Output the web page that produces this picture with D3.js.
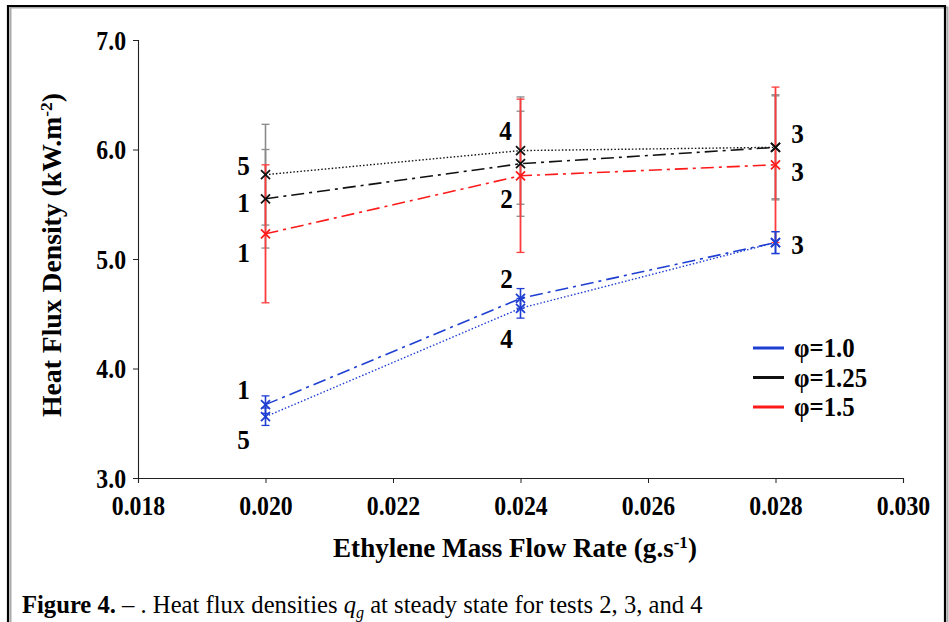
<!DOCTYPE html>
<html><head><meta charset="utf-8">
<script src="https://cdn.jsdelivr.net/npm/d3@7"></script>
<style>body{margin:0;background:#fff}svg{display:block}text{font-family:"Liberation Serif","Times New Roman",serif}</style>
</head><body><svg id="c" width="949" height="622"></svg>
<script>
// ---- data ----
const flowRates = [0.020, 0.024, 0.028];
const xTicks = [0.018, 0.020, 0.022, 0.024, 0.026, 0.028, 0.030];
const yTicks = [3.0, 4.0, 5.0, 6.0, 7.0];
const phi10_tests123 = [3.67, 4.64, 5.15];
const phi10_tests123_err = [0.08, 0.09, 0.10];
const phi10_tests543 = [3.56, 4.55, 5.15];
const phi10_tests543_err = [0.08, 0.09, 0.10];
const phi125_tests123 = [5.55, 5.87, 6.02];
const phi125_tests123_err = [0.45, 0.48, 0.47];
const phi125_tests543 = [5.77, 5.99, 6.02];
const phi125_tests543_err = [0.46, 0.49, 0.48];
const phi15_tests123 = [5.23, 5.76, 5.86];
const phi15_tests123_err = [0.63, 0.70, 0.71];
const legendLabels = ["φ=1.0", "φ=1.25", "φ=1.5"];
// point annotations: [series key, point index, text]
const pointLabels = [
  ["b125d", 0, "5"], ["b125a", 0, "1"], ["r15", 0, "1"],
  ["b125d", 1, "4"], ["r15", 1, "2"], ["b10a", 1, "2"], ["b10d", 1, "4"],
  ["b125d", 2, "3"], ["r15", 2, "3"], ["b10a", 2, "3"],
  ["b10a", 0, "1"], ["b10d", 0, "5"]
];

// ---- styles / layout ----
const BLUE = "#1f3fd2", RED = "#ff1a1a", BLACK = "#111", GRAY = "#8a8a8a";
const series = {
  b10a: {vals: phi10_tests123, err: phi10_tests123_err, color: BLUE, ecolor: BLUE, dash: "13,5,3,5", w: 1.6},
  b10d: {vals: phi10_tests543, err: phi10_tests543_err, color: BLUE, ecolor: BLUE, dash: "1.5,2", w: 1.4},
  b125a: {vals: phi125_tests123, err: phi125_tests123_err, color: BLACK, ecolor: GRAY, dash: "13,5,3,5", w: 1.6},
  b125d: {vals: phi125_tests543, err: phi125_tests543_err, color: BLACK, ecolor: GRAY, dash: "1.5,2", w: 1.4},
  r15: {vals: phi15_tests123, err: phi15_tests123_err, color: RED, ecolor: "#ff3b3b", dash: "13,5,3,5", w: 1.6}
};
const labelOffsets = [
  [-22,-9],[-22,3],[-22,18],
  [-15,-20],[-14,22],[-14,-20],[-14,30],
  [22,-14],[22,6],[22,2],
  [-22,-15],[-22,23]
];

const svg = d3.select("#c");
// frame
svg.append("path").attr("d","M9,640V6H946V640").attr("fill","none").attr("stroke","#aaa").attr("stroke-width",2).attr("transform","translate(1.5,1.5)");
svg.append("path").attr("d","M8,640V6H945V640").attr("fill","none").attr("stroke","#000").attr("stroke-width",2.2);

const x = d3.scaleLinear().domain([0.018, 0.030]).range([138, 903]);
const y = d3.scaleLinear().domain([3.0, 7.0]).range([478, 40]);

function condense(textSel, sx, anchorX) {
  textSel.each(function() {
    const t = d3.select(this);
    const ax = anchorX(t), ay = +t.attr("y") || 0;
    t.attr("transform", `translate(${ax},${ay}) scale(${sx},1) translate(${-ax},${-ay})`);
  });
}

const xAxis = svg.append("g").attr("transform","translate(0,478)")
  .call(d3.axisBottom(x).tickValues(xTicks).tickFormat(d3.format(".3f")).tickSize(5).tickPadding(8));
const yAxis = svg.append("g").attr("transform","translate(138,0)")
  .call(d3.axisLeft(y).tickValues(yTicks).tickFormat(d3.format(".1f")).tickSize(5).tickPadding(7));
[xAxis, yAxis].forEach(g => {
  g.select(".domain").attr("stroke","#222").attr("stroke-width",1.1);
  g.selectAll(".tick line").attr("stroke","#222");
  g.selectAll("text").attr("font-size",27).attr("font-weight","bold").attr("fill","#000")
   .attr("font-family",'"Liberation Serif",serif');
});
xAxis.selectAll("text").attr("dy","0.9em");
yAxis.selectAll("text").attr("dy","0.35em");
condense(xAxis.selectAll("text"), 0.88, () => 0);
condense(yAxis.selectAll("text"), 0.88, t => +t.attr("x"));

// error bars
const errG = svg.append("g");
["b125d","b125a","r15","b10a","b10d"].forEach(k => {
  const s = series[k];
  flowRates.forEach((f,i) => {
    const x0 = x(f), y1 = y(s.vals[i]+s.err[i]), y2 = y(s.vals[i]-s.err[i]);
    errG.append("line").attr("x1",x0).attr("x2",x0).attr("y1",y1).attr("y2",y2)
      .attr("stroke",s.ecolor).attr("stroke-width",k==="r15"?1.8:1.6);
    [y1,y2].forEach(yy => errG.append("line").attr("x1",x0-4).attr("x2",x0+4).attr("y1",yy).attr("y2",yy)
      .attr("stroke",s.ecolor).attr("stroke-width",1.3));
  });
});

// lines
const line = d3.line().x((d,i)=>x(flowRates[i])).y(d=>y(d));
Object.values(series).forEach(s => {
  svg.append("path").attr("d", line(s.vals)).attr("fill","none").attr("stroke",s.color)
    .attr("stroke-width",s.w).attr("stroke-dasharray",s.dash);
});

// markers (x)
Object.values(series).forEach(s => {
  s.vals.forEach((v,i) => {
    const cx = x(flowRates[i]), cy = y(v), r = 4.5;
    svg.append("path").attr("d",`M${cx-r},${cy-r}L${cx+r},${cy+r}M${cx-r},${cy+r}L${cx+r},${cy-r}`)
      .attr("stroke",s.color).attr("stroke-width",1.8);
  });
});

// point annotations
pointLabels.forEach((p,j) => {
  const s = series[p[0]];
  const t = svg.append("text").attr("x", x(flowRates[p[1]]) + labelOffsets[j][0])
    .attr("y", y(s.vals[p[1]]) + labelOffsets[j][1])
    .attr("text-anchor","middle").attr("dy","0.35em")
    .attr("font-size",28).attr("font-weight","bold").text(p[2]);
  condense(t, 0.9, tt => +tt.attr("x"));
});

// legend
const legColors = [BLUE, BLACK, RED];
legendLabels.forEach((t,i) => {
  const ly = 348 + i*29.5;
  svg.append("line").attr("x1",753).attr("x2",784).attr("y1",ly).attr("y2",ly).attr("stroke",legColors[i]).attr("stroke-width",3);
  const tx = svg.append("text").attr("x",794).attr("y",ly).attr("dy","0.35em").attr("font-size",27).attr("font-weight","bold").text(t);
  condense(tx, 0.92, () => 794);
});

function fitWidth(sel, target, ax, ay) {
  const w = sel.node().getBBox().width;
  const s = target / w;
  sel.attr("transform", `translate(${ax},${ay}) scale(${s},1) translate(${-ax},${-ay})`);
}

// axis titles
const xt = svg.append("text").attr("x",515).attr("y",548).attr("dy","0.35em").attr("text-anchor","middle")
  .attr("font-size",27).attr("font-weight","bold");
xt.append("tspan").text("Ethylene Mass Flow Rate (g.s");
xt.append("tspan").attr("font-size",17).attr("dy","-9").text("-1");
xt.append("tspan").attr("dy","9").text(")");
fitWidth(xt, 364, 515, 548);

const yt = svg.append("text").attr("x",0).attr("y",0).attr("dy","0.35em").attr("text-anchor","middle")
  .attr("font-size",27).attr("font-weight","bold");
yt.append("tspan").text("Heat Flux Density (kW.m");
yt.append("tspan").attr("font-size",17).attr("dy","-9").text("-2");
yt.append("tspan").attr("dy","9").text(")");
{
  const w = yt.node().getBBox().width, s = 324 / w;
  yt.attr("transform", `translate(52,255) rotate(-90) scale(${s},1)`);
}

// caption
const cap = svg.append("text").attr("x",22).attr("y",604).attr("dy","0.35em").attr("font-size",26);
cap.append("tspan").attr("font-weight","bold").text("Figure 4.");
cap.append("tspan").text(" – . Heat flux densities ");
cap.append("tspan").attr("font-style","italic").text("q");
cap.append("tspan").attr("font-style","italic").attr("font-size",17).attr("dy","5").text("g");
cap.append("tspan").attr("dy","-5").text(" at steady state for tests 2, 3, and 4");
fitWidth(cap, 681, 22, 604);
</script></body></html>
